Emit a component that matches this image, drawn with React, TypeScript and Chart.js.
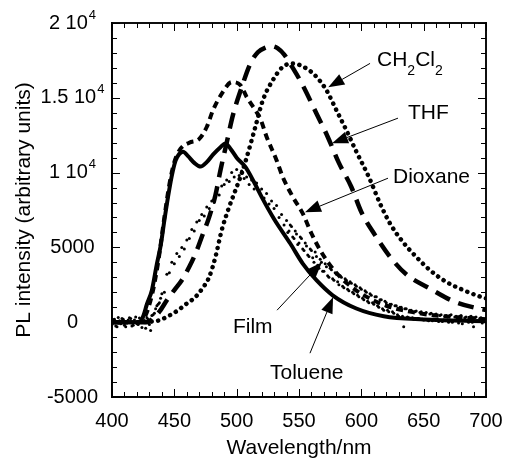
import React, { useEffect, useRef } from "react";
import { Chart, registerables } from "chart.js";

Chart.register(...registerables);

const FONT = "'Liberation Sans', Arial, Helvetica, sans-serif";

// ---- data (wavelength nm, PL intensity a.u.) ----
const tolueneWl = [400, 422, 425, 428, 432, 436, 439, 442, 445, 448, 451, 454, 457, 461, 466, 471, 476, 481, 487, 491, 495, 500, 507, 514, 520, 530, 543, 553, 564, 577, 596, 618, 650, 700];
const toluenePl = [0, 0, 400, 1200, 2140, 3900, 5100, 6800, 8400, 9800, 10800, 11250, 11400, 11100, 10650, 10400, 10700, 11200, 11700, 11950, 11600, 11000, 10380, 9350, 8380, 6900, 5260, 3920, 2810, 1800, 915, 400, 180, 60];

const dioxaneWl = [400, 421, 426, 432, 437, 442, 446, 450, 455, 462, 470, 476, 481, 489, 496, 503, 508, 515, 519, 524, 532, 537, 545, 553, 560, 567, 574, 583, 590, 600, 620, 650, 700];
const dioxanePl = [0, 0, 300, 1800, 4000, 7000, 9200, 10700, 11600, 12000, 12250, 13050, 14170, 15400, 16050, 15850, 15060, 14170, 13600, 12400, 10830, 9700, 8380, 7270, 5930, 4810, 3920, 3030, 2500, 1900, 1100, 550, 200];

const thfWl = [400, 428, 433, 438, 444, 450, 456, 462, 467, 472, 478, 483, 487, 492, 497, 504, 511, 517, 523, 528, 533, 538, 545, 553, 564, 573, 582, 592, 600, 611, 623, 636, 655, 674, 694, 700];
const thfPl = [0, 0, 250, 700, 1470, 2150, 2810, 3700, 4590, 5700, 7040, 8500, 10160, 12000, 13840, 15700, 17290, 18050, 18350, 18450, 18300, 17900, 17000, 15840, 13950, 12400, 10650, 9040, 7370, 5820, 4370, 3200, 2250, 1400, 910, 820];

const ch2cl2Wl = [400, 420, 433, 438, 445, 453, 460, 467, 472, 478, 483, 488, 494, 499, 504, 508, 515, 521, 529, 537, 545, 556, 564, 572, 580, 588, 596, 606, 615, 623, 633, 644, 655, 668, 682, 696, 700];
const ch2cl2Pl = [0, 0, 50, 130, 400, 800, 1250, 1690, 2200, 3030, 4370, 6150, 7710, 8820, 9940, 11000, 13060, 14840, 16180, 17070, 17290, 16960, 16400, 15510, 14170, 12830, 11400, 9710, 7930, 6600, 5400, 4370, 3480, 2700, 2140, 1690, 1600];

// Film: noisy spectrum sampled every 2 nm from 400 nm
const filmStep = 2;
const filmStart = 400;
const filmPl = [
  -150, 200, -300, 100, 250, -200, 50, 300, -250, 150,
  -100, 280, -350, 120, 300, -150, 450, 600, 1100, 1300,
  1900, 2000, 3200, 3300, 4000, 3900, 4600, 4400, 5000, 4900,
  5500, 5600, 6200, 6100, 6700, 6800, 7200, 7100, 7700, 7600,
  8100, 8000, 8600, 8500, 9100, 9200, 9500, 9400, 10000, 9700,
  10200, 9800, 10100, 9600, 9700, 9200, 9500, 8900, 9300, 8800,
  8900, 8300, 8600, 7900, 8100, 7600, 7800, 7000, 7200, 6500,
  6800, 6100, 6400, 5600, 5900, 5300, 5600, 4800, 5100, 4400,
  4800, 4000, 4400, 3600, 4000, 3400, 3700, 3000, 3500, 2800,
  3200, 2500, 3000, 2300, 2800, 2100, 2600, 1900, 2400, 1700,
  2200, 1500, 2000, 1300, 1800, 1200, 1700, 1000, 1500, 800,
  1300, 700, 1200, 600, 1100, 400, 1000, -300, 900, 300,
  800, 200, 750, 250, 700, 150, 650, 100, 600, 200,
  550, 50, 500, 150, 450, 0, 500, 100, 400, -50,
  450, 150, 350, 0, 400, -300, 350, 100, 300, 50,
  250,
];
// Film baseline/onset: extra samples at odd wavelengths from 401 nm
const filmOnsetStart = 401;
const filmOnsetPl = [180, -250, 320, -100, 200, -300, 150, 250, -200, 350, -150, 100, 300, -400, 200, -550, 500, 900, 1200, 1600];
// Film tail: extra samples at odd wavelengths from 541 nm
const filmTailStart = 541;
const filmTailPl = [
  6000, 6500, 5700, 6100, 5200, 5700, 4900, 5300, 4500, 4900,
  4300, 4700, 3800, 4200, 3400, 3900, 3100, 3600, 2900, 3300,
  2700, 3100, 2400, 2900, 2200, 2700, 2000, 2500, 1800, 2300,
  1600, 2100, 1400, 1900, 1300, 1700, 1100, 1500, 900, 1400,
  800, 1200, 700, 1100, 500, 1000, 400, 900, 350, 800,
  300, 700, 250, 650, 200, 600, 150, 550, 100, 500,
  200, 450, 50, 400, 150, 450, 0, 350, 100, 400,
  -100, 300, 150, 350, 0, 300, 100, 250, -50, 200,
];

const X_MIN = 400, X_MAX = 700, X_MAJOR = 50, X_MINOR = 10;
const Y_MIN = -5000, Y_MAX = 20000, Y_MAJOR = 5000, Y_MINOR = 1000;
const xTicks = [400, 450, 500, 550, 600, 650, 700];
const yTicks = [-5000, 0, 5000, 10000, 15000, 20000];
// y tick labels as [mantissa text, superscript exponent]
const yTickLabels: [string, string][] = [["-5000", ""], ["0", ""], ["5000", ""], ["1 10", "4"], ["1.5 10", "4"], ["2 10", "4"]];

// annotations: label anchor (left, middle) and arrow from -> tip, in data units
const labels = [
  { parts: [["CH", 0], ["2", 1], ["Cl", 0], ["2", 1]], x: 612.6, y: 17500, from: [607, 17300], tip: [573.5, 15700] },
  { parts: [["THF", 0]], x: 637.4, y: 13970, from: [629.4, 13640], tip: [576.5, 11965] },
  { parts: [["Dioxane", 0]], x: 625.4, y: 9690, from: [621.4, 9626], tip: [554.8, 7353] },
  { parts: [["Film", 0]], x: 497, y: -334, from: [532.4, 802], tip: [568.4, 4011] },
  { parts: [["Toluene", 0]], x: 526.7, y: -3409, from: [558.8, -2072], tip: [577.3, 1671] },
];

const toXY = (wl: number[], pl: number[]) => wl.map((x, i) => ({ x, y: pl[i] }));
const series = (start: number, pl: number[]) => pl.map((y, i) => ({ x: start + i * filmStep, y }));

// draws plot frame and inward ticks on a given context, positioned through the chart's scales
function drawFrame(ctx: CanvasRenderingContext2D, xs: any, ys: any) {
  const L = xs.getPixelForValue(X_MIN);
  const R = xs.getPixelForValue(X_MAX);
  const T = ys.getPixelForValue(Y_MAX);
  const B = ys.getPixelForValue(Y_MIN);
  ctx.save();
  ctx.setLineDash([]);
  ctx.globalAlpha = 1;
  ctx.globalCompositeOperation = "source-over";
  ctx.fillStyle = "#000";
  ctx.fillRect(L - 0.75, T - 0.75, 1.5, B - T + 1.5);
  ctx.fillRect(R - 0.75, T - 0.75, 1.5, B - T + 1.5);
  ctx.fillRect(L - 0.75, T - 0.75, R - L + 1.5, 1.5);
  ctx.fillRect(L - 0.75, B - 0.75, R - L + 1.5, 1.5);
  for (let v = X_MIN; v <= X_MAX; v += X_MINOR) {
    const px = Math.round(xs.getPixelForValue(v));
    const len = v % X_MAJOR === 0 ? 8 : 5;
    ctx.fillRect(px, B - len, 1, len);
    ctx.fillRect(px, T, 1, len);
  }
  for (let v = Y_MIN; v <= Y_MAX; v += Y_MINOR) {
    const py = Math.round(ys.getPixelForValue(v));
    const len = v % Y_MAJOR === 0 ? 8 : 5;
    ctx.fillRect(L, py, len, 1);
    ctx.fillRect(R - len, py, len, 1);
  }
  ctx.restore();
}

const annotPlugin = {
  id: "annot",
  afterDraw(chart: any) {
    const ctx = chart.ctx;
    const xs = chart.scales.x;
    const ys = chart.scales.y;
    ctx.save();
    ctx.setLineDash([]);
    ctx.strokeStyle = "#000";
    ctx.fillStyle = "#000";
    ctx.textBaseline = "middle";
    ctx.textAlign = "left";

    yTicks.forEach((v, i) => {
      const [m, e] = yTickLabels[i];
      const py = ys.getPixelForValue(v);
      ctx.font = `20px ${FONT}`;
      const wm = ctx.measureText(m).width;
      ctx.font = `13px ${FONT}`;
      const we = e ? ctx.measureText(e).width + 1 : 0;
      const x0 = 72.5 - (wm + we) / 2;
      ctx.font = `20px ${FONT}`;
      ctx.fillText(m, x0, py);
      if (e) {
        ctx.font = `13px ${FONT}`;
        ctx.fillText(e, x0 + wm + 1, py - 8);
      }
    });

    for (const l of labels) {
      let px = xs.getPixelForValue(l.x);
      const py = ys.getPixelForValue(l.y);
      for (const [t, sub] of l.parts as any) {
        if (sub) {
          ctx.font = `14px ${FONT}`;
          ctx.fillText(t, px, py + 11);
        } else {
          ctx.font = `21px ${FONT}`;
          ctx.fillText(t, px, py);
        }
        px += ctx.measureText(t).width;
      }
      const fx = xs.getPixelForValue(l.from[0]);
      const fy = ys.getPixelForValue(l.from[1]);
      const tx = xs.getPixelForValue(l.tip[0]);
      const ty = ys.getPixelForValue(l.tip[1]);
      const ang = Math.atan2(ty - fy, tx - fx);
      const hl = 16, hw = 6;
      const bx = tx - hl * Math.cos(ang);
      const by = ty - hl * Math.sin(ang);
      ctx.lineWidth = 1;
      ctx.beginPath();
      ctx.moveTo(fx, fy);
      ctx.lineTo(bx, by);
      ctx.stroke();
      ctx.beginPath();
      ctx.moveTo(tx, ty);
      ctx.lineTo(bx + hw * Math.sin(ang), by - hw * Math.cos(ang));
      ctx.lineTo(bx - hw * Math.sin(ang), by + hw * Math.cos(ang));
      ctx.closePath();
      ctx.fill();
    }
    ctx.restore();
    drawFrame(ctx, xs, ys);
  },
};

export default function App() {
  const ref = useRef<HTMLCanvasElement>(null);
  const overlayRef = useRef<HTMLCanvasElement>(null);
  useEffect(() => {
    document.body.style.margin = "0";
    const canvas = ref.current!;
    const filmData = [
      ...series(filmStart, filmPl),
      ...series(filmOnsetStart, filmOnsetPl),
      ...series(filmTailStart, filmTailPl),
    ];
    const lineBase = {
      borderColor: "#000",
      backgroundColor: "#000",
      pointRadius: 0,
      fill: false,
      cubicInterpolationMode: "monotone" as const,
    };
    const chart = new Chart(canvas, {
      type: "line",
      data: {
        datasets: [
          { ...lineBase, label: "Toluene", data: toXY(tolueneWl, toluenePl), borderWidth: 4 },
          { ...lineBase, label: "Dioxane", data: toXY(dioxaneWl, dioxanePl), borderWidth: 4, borderDash: [7, 5] },
          { ...lineBase, label: "THF", data: toXY(thfWl, thfPl), borderWidth: 4.5, borderDash: [16, 9] },
          { ...lineBase, label: "CH2Cl2", data: toXY(ch2cl2Wl, ch2cl2Pl), borderWidth: 4.5, borderDash: [0.1, 6.5], borderCapStyle: "round" },
          { label: "Film", data: filmData, showLine: false, pointRadius: 1.5, pointBorderWidth: 0, pointBackgroundColor: "#000", borderColor: "#000" },
        ],
      },
      options: {
        responsive: false,
        animation: false,
        devicePixelRatio: 1,
        layout: { padding: { top: 23, right: 20, left: 0, bottom: 0 } },
        plugins: { legend: { display: false }, tooltip: { enabled: false } },
        scales: {
          x: {
            type: "linear",
            min: X_MIN,
            max: X_MAX,
            grid: { display: false, drawTicks: false },
            border: { display: true, color: "#000", width: 1.5 },
            afterFit: (s: any) => { s.height = 62; s.paddingLeft = 0; s.paddingRight = 0; },
            afterBuildTicks: (s: any) => { s.ticks = xTicks.map((v) => ({ value: v })); },
            ticks: { color: "#000", font: { family: FONT, size: 20 }, padding: 12, maxRotation: 0, autoSkip: false },
            title: { display: true, text: "Wavelength/nm", color: "#000", font: { family: FONT, size: 21, lineHeight: 1 }, padding: { top: 0, bottom: 0 } },
          },
          y: {
            type: "linear",
            min: Y_MIN,
            max: Y_MAX,
            grid: { display: false, drawTicks: false },
            border: { display: true, color: "#000", width: 1.5 },
            afterFit: (s: any) => { s.width = 112; s.paddingTop = 0; s.paddingBottom = 0; },
            afterBuildTicks: (s: any) => { s.ticks = yTicks.map((v) => ({ value: v })); },
            ticks: { display: false },
            title: { display: true, text: "PL intensity (arbitrary units)", color: "#000", font: { family: FONT, size: 21, lineHeight: 1 }, padding: { top: 14, bottom: 0 } },
          },
        },
      },
      plugins: [annotPlugin],
    });

    // also draw the frame and ticks on a transparent overlay canvas, placed via the chart's scales
    const ov = overlayRef.current!;
    const octx = ov.getContext("2d")!;
    octx.clearRect(0, 0, ov.width, ov.height);
    drawFrame(octx, chart.scales.x, chart.scales.y);

    return () => {
      chart.destroy();
      octx.clearRect(0, 0, ov.width, ov.height);
    };
  }, []);
  return (
    <div style={{ position: "relative", width: 506, height: 459 }}>
      <canvas ref={ref} width={506} height={459} style={{ position: "absolute", left: 0, top: 0 }} />
      <canvas ref={overlayRef} width={506} height={459} style={{ position: "absolute", left: 0, top: 0, pointerEvents: "none" }} />
    </div>
  );
}
